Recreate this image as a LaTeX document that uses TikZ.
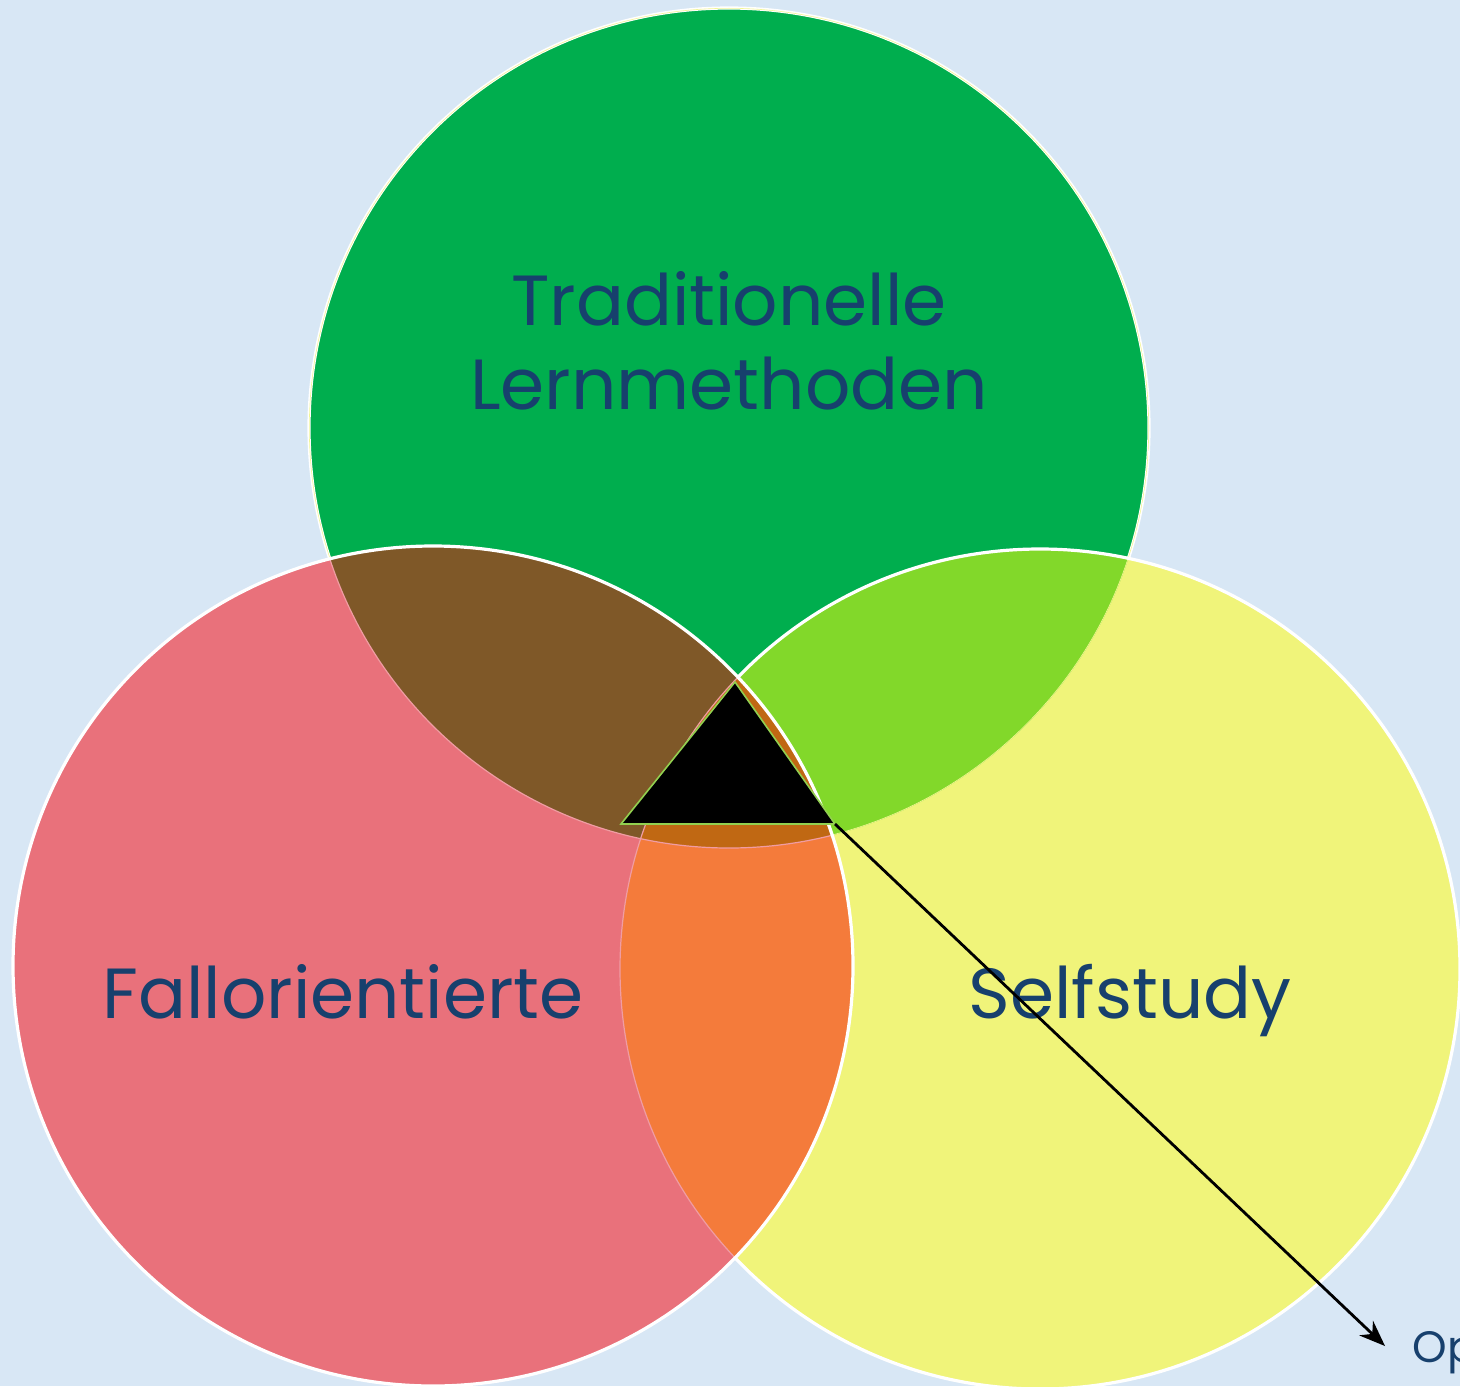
\documentclass[tikz,border=0pt]{standalone}
\usepackage{fontspec}
\setmainfont{Poppins}
\usetikzlibrary{arrows.meta}
\definecolor{bgblue}{HTML}{D8E7F5}
\definecolor{cgreen}{HTML}{00AE4E}
\definecolor{cyellow}{HTML}{F0F47A}
\definecolor{cred}{HTML}{E9717B}
\definecolor{clgreen}{HTML}{82D82A}
\definecolor{cbrown}{HTML}{7F5828}
\definecolor{corange}{HTML}{F47B3B}
\definecolor{cdark}{HTML}{C06813}
\definecolor{txtblue}{HTML}{17406D}
\definecolor{triedge}{HTML}{92D050}
\tikzset{
  ring/.style={draw=white, line width=1.6pt},
  label/.style={text=txtblue, font=\fontsize{35.5}{43}\selectfont, align=center, inner sep=0pt},
  smalllabel/.style={text=txtblue, font=\fontsize{22}{26}\selectfont, inner sep=0pt, anchor=base west},
  tri/.style={fill=black, draw=triedge, line width=0.8pt, line join=miter},
  pointer/.style={draw=black, line width=1.4pt, -{Stealth[length=13pt,width=10pt]}}
}
\begin{document}
\begin{tikzpicture}[x=0.5pt,y=-0.5pt]
\def\R{210pt}
\useasboundingbox (0,0) rectangle (1460,1386);
\clip (0,0) rectangle (1460,1386);
\fill[bgblue] (0,0) rectangle (1460,1386);
\coordinate (cG) at (729,428);
\coordinate (cR) at (433,966);
\coordinate (cY) at (1040,969);
% green
\fill[cgreen] (cG) circle (\R);
\draw[ring] (cG) circle (\R);
% yellow
\fill[cyellow] (cY) circle (\R);
\begin{scope}
  \clip (cG) circle (\R);
  \fill[clgreen] (cY) circle (\R);
  \draw[cyellow!80!white, line width=0.6pt] (cG) circle (\R);
\end{scope}
\draw[ring] (cY) circle (\R);
% red
\fill[cred] (cR) circle (\R);
\begin{scope}
  \clip (cR) circle (\R);
  \fill[cbrown] (cG) circle (\R);
  \fill[corange] (cY) circle (\R);
  \clip (cG) circle (\R);
  \fill[cdark] (cY) circle (\R);
\end{scope}
\begin{scope}
  \clip (cR) circle (\R);
  \draw[cred!70!white, line width=0.6pt] (cG) circle (\R);
  \draw[cred!70!white, line width=0.6pt] (cY) circle (\R);
\end{scope}
\draw[ring] (cR) circle (\R);
% labels
\node[label] (trad) at (729,341) {Traditionelle\\[-1pt]Lernmethoden};
\node[label, anchor=base] (fall) at (343,1018) {Fallorientierte};
\node[label, anchor=base] (self) at (1130,1018) {Selfstudy};
% triangle
\coordinate (tT) at (735,682);
\coordinate (tL) at (621,824);
\coordinate (tR) at (835,824);
\draw[tri] (tT) -- (tL) -- (tR) -- cycle;
% pointer
\node[smalllabel] (op) at (1412,1362) {Op};
\coordinate (tip) at (1385,1346);
\draw[pointer] (tR) -- (tip);
\end{tikzpicture}
\end{document}
